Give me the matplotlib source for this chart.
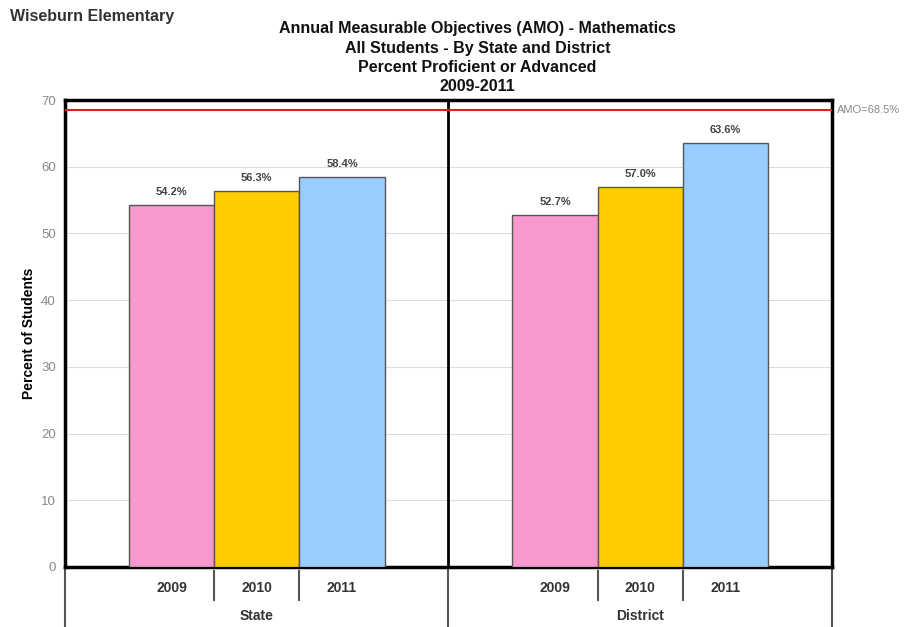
import matplotlib.pyplot as plt
import matplotlib.transforms as mtransforms

plt.rcParams['font.family'] = ['Liberation Sans', 'DejaVu Sans']

school = 'Wiseburn Elementary'
groups = ['State', 'District']
years = ['2009', '2010', '2011']
state_pct = [54.2, 56.3, 58.4]
district_pct = [52.7, 57.0, 63.6]
amo_target = 68.5
yticks = [0, 10, 20, 30, 40, 50, 60, 70]

year_colors = ['#F799CC', '#FFCC00', '#99CCFF']
panel_w = 4.5

fig = plt.figure(figsize=(9.06, 6.27), dpi=100)
ax = fig.add_axes([0.0717, 0.0957, 0.8466, 0.7448])

# bars for each group, centred within its panel
for g, vals in enumerate([state_pct, district_pct]):
    x0 = g * panel_w
    for i, v in enumerate(vals):
        xc = x0 + 1.25 + i
        ax.bar(xc, v, width=1.0, color=year_colors[i], edgecolor='#555555',
               linewidth=1.0, zorder=3)
        ax.text(xc, v + 1.2, f'{v:.1f}%', ha='center', va='bottom',
                fontsize=8, fontweight='bold', color='#444444')

ax.set_xlim(0, 2 * panel_w)
ax.set_ylim(0, 70)
ax.set_yticks(yticks)
ax.set_yticklabels([str(t) for t in yticks], fontsize=9.5, color='#888888')
ax.tick_params(axis='y', length=0, pad=6.5)
ax.set_xticks([])
ax.yaxis.grid(True, color='#DDDDDD', linewidth=0.8, zorder=0)
for s in ax.spines.values():
    s.set_linewidth(2.5)
    s.set_color('black')

# panel divider
ax.axvline(panel_w, color='black', linewidth=2.0, zorder=4)

# AMO target line
ax.axhline(amo_target, color='#E02020', linewidth=1.5, zorder=4)
ax.text(1.007, amo_target, f'AMO={amo_target}%',
        transform=mtransforms.blended_transform_factory(ax.transAxes, ax.transData),
        ha='left', va='center', fontsize=8, color='#888888')

ax.set_ylabel('Percent of Students', fontsize=10, fontweight='bold', labelpad=4)

# category axis below the plot
trans = mtransforms.blended_transform_factory(ax.transData, ax.transAxes)
for g, name in enumerate(groups):
    x0 = g * panel_w
    for i, yr in enumerate(years):
        ax.text(x0 + 1.25 + i, -0.045, yr, transform=trans, ha='center', va='center',
                fontsize=10, fontweight='bold', color='#333333')
    for i in range(1, len(years)):
        ax.plot([x0 + 0.75 + i] * 2, [-0.008, -0.07], transform=trans,
                color='#555555', linewidth=1.5, clip_on=False)
    ax.text(x0 + panel_w / 2, -0.105, name, transform=trans, ha='center', va='center',
            fontsize=10, fontweight='bold', color='#333333')
for xb in [0, panel_w, 2 * panel_w]:
    ax.plot([xb, xb], [0, -0.13], transform=trans, color='#555555',
            linewidth=1.5, clip_on=False)

fig.text(0.011, 0.974, school, ha='left', va='center', fontsize=11.5,
         fontweight='bold', color='#333333')
fig.text(0.527, 0.908, 'Annual Measurable Objectives (AMO) - Mathematics\n'
         'All Students - By State and District\n'
         'Percent Proficient or Advanced\n2009-2011',
         ha='center', va='center', fontsize=11.5, fontweight='bold',
         linespacing=1.36, color='#111111')

fig.savefig('out.png', dpi=100)
